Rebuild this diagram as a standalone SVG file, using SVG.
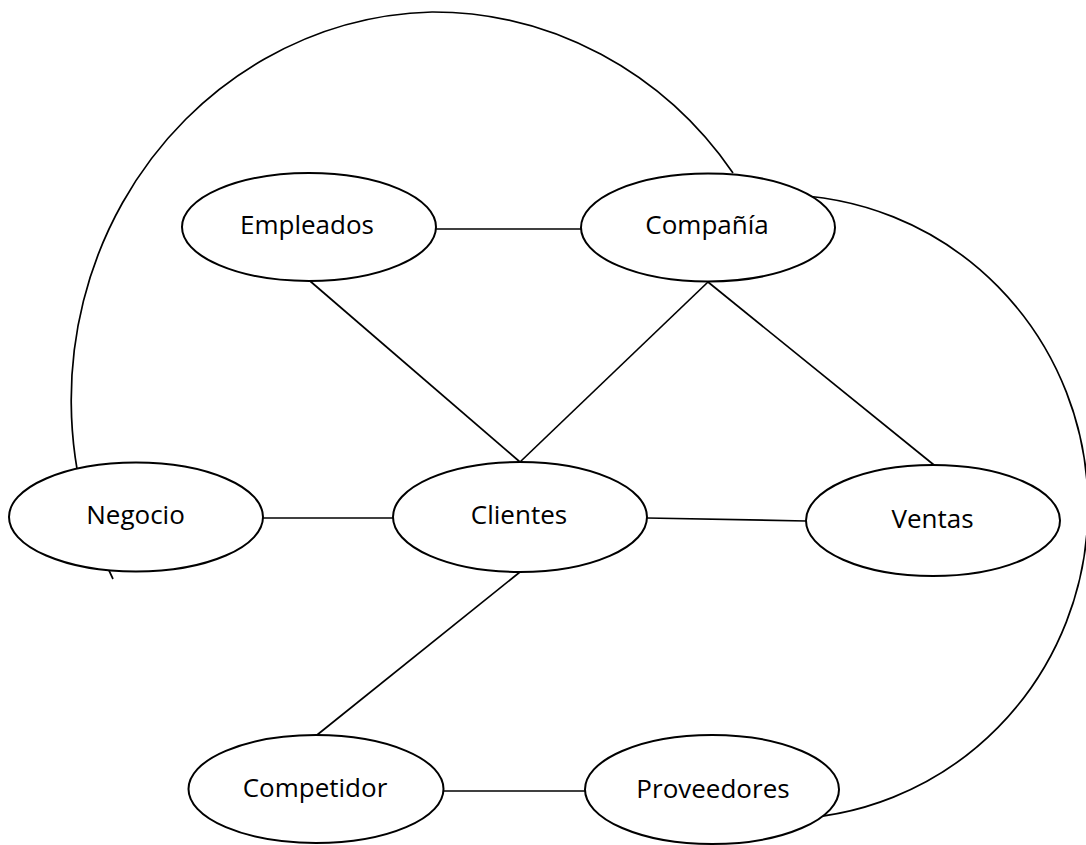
<svg xmlns="http://www.w3.org/2000/svg" width="1086" height="845" viewBox="0 0 1086 845">
  <style>
    .node ellipse { fill: #ffffff; stroke: #000000; stroke-width: 2; }
    .node text { font-family: "Open Sans", "Liberation Sans", sans-serif; font-size: 26px; fill: #000000; text-anchor: middle; }
    #connectors line, #connectors path { fill: none; stroke: #000000; stroke-width: 1.7; }
  </style>
  <rect width="1086" height="845" fill="#ffffff"/>

  <!-- Connectors (drawn first so the filled nodes sit on top) -->
  <g id="connectors">
    <!-- large loop: Negocio over the top to Compañía -->
    <path d="M 113 579 A 370 388 0 0 1 432 12 A 370 388 0 0 1 733 173"/>
    <!-- large loop: Compañía around the right side to Proveedores -->
    <path d="M 780 195 A 308 312 0 0 1 1088 507 A 308 312 0 0 1 780 819"/>
    <line x1="436" y1="229" x2="581" y2="229"/>
    <line x1="310" y1="281" x2="520" y2="462"/>
    <line x1="708" y1="282" x2="520" y2="462"/>
    <line x1="708" y1="282" x2="934" y2="465"/>
    <line x1="263" y1="518" x2="393" y2="518"/>
    <line x1="647" y1="518" x2="806" y2="521"/>
    <line x1="520" y1="572" x2="317" y2="735"/>
    <line x1="443" y1="791" x2="585" y2="791"/>
  </g>

  <g id="node-empleados" class="node">
    <ellipse cx="309" cy="227" rx="127" ry="54"/>
    <text x="307" y="234">Empleados</text>
  </g>
  <g id="node-compania" class="node">
    <ellipse cx="708" cy="227.5" rx="127" ry="54"/>
    <text x="707" y="234">Compañía</text>
  </g>
  <g id="node-negocio" class="node">
    <ellipse cx="136" cy="517" rx="127" ry="54.5"/>
    <text x="135.5" y="524">Negocio</text>
  </g>
  <g id="node-clientes" class="node">
    <ellipse cx="520" cy="517" rx="127" ry="55"/>
    <text x="519" y="524">Clientes</text>
  </g>
  <g id="node-ventas" class="node">
    <ellipse cx="933" cy="520.5" rx="127" ry="55.5"/>
    <text x="932.5" y="528">Ventas</text>
  </g>
  <g id="node-competidor" class="node">
    <ellipse cx="316" cy="789" rx="127.5" ry="54"/>
    <text x="315" y="797">Competidor</text>
  </g>
  <g id="node-proveedores" class="node">
    <ellipse cx="712" cy="789.5" rx="127" ry="54.5"/>
    <text x="713" y="798">Proveedores</text>
  </g>
</svg>
